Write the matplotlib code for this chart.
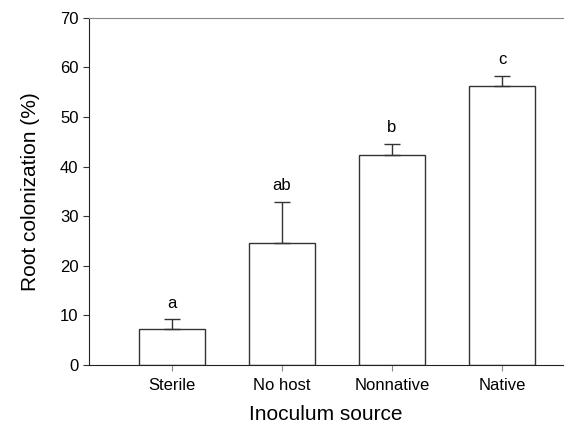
import matplotlib.pyplot as plt

plt.rcParams['font.family'] = ['Liberation Sans', 'DejaVu Sans']

sources = ['Sterile', 'No host', 'Nonnative', 'Native']
colonization = [7.2, 24.7, 42.3, 56.3]
err_upper = [2.0, 8.2, 2.3, 2.0]
letters = ['a', 'ab', 'b', 'c']

fig = plt.figure(figsize=(5.81, 4.25), dpi=100)
ax = fig.add_axes([0.153, 0.141, 0.816, 0.817])

x = range(len(sources))
ax.bar(x, colonization, width=0.6, color='white', edgecolor='#333333', linewidth=1.0)
ax.errorbar(x, colonization, yerr=[[0] * len(sources), err_upper], fmt='none',
            ecolor='#333333', elinewidth=1.0, capsize=6, capthick=1.0)

for xi, v, e, lab in zip(x, colonization, err_upper, letters):
    ax.text(xi, v + e + 1.7, lab, ha='center', va='bottom', fontsize=12)

ax.set_xlim(-0.755, 3.555)
ax.set_ylim(0, 70)
ax.set_yticks(range(0, 71, 10))
ax.set_xticks(list(x))
ax.set_xticklabels(sources)
ax.tick_params(axis='both', direction='out', length=4, width=0.8, labelsize=12, color='#333333')
ax.tick_params(axis='x', colors='#888888', labelcolor='black', pad=5)

ax.spines['right'].set_visible(False)
ax.spines['top'].set_color('#888888')
ax.spines['left'].set_color('#222222')
ax.spines['bottom'].set_color('#222222')

ax.set_xlabel('Inoculum source', fontsize=15, labelpad=9)
ax.set_ylabel('Root colonization (%)', fontsize=15, labelpad=14)

fig.savefig('out.png', dpi=100)
